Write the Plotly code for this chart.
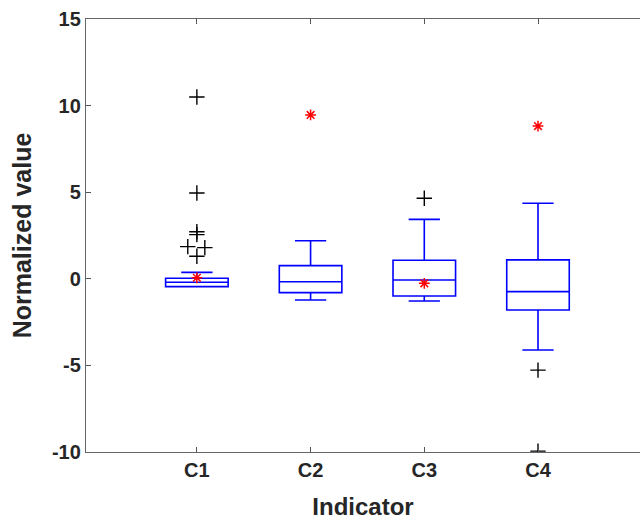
import plotly.graph_objects as go

categories = ["C1", "C2", "C3", "C4"]
positions = [1, 2, 3, 4]
q1 = [-0.45, -0.80, -0.99, -1.80]
median = [-0.20, -0.17, -0.07, -0.74]
q3 = [0.03, 0.76, 1.07, 1.09]
lower_whisker = [-0.43, -1.22, -1.28, -4.11]
upper_whisker = [0.37, 2.20, 3.43, 4.36]

# outliers (category index, value, small horizontal jitter)
outlier_cat = [1, 1, 1, 1, 1, 1, 1, 3, 4, 4]
outlier_val = [10.5, 4.95, 2.72, 2.55, 1.86, 1.80, 1.30, 4.65, -5.27, -9.95]
outlier_jit = [0, 0, 0, 0, -0.08, 0.07, 0, 0, 0, 0]

# red star reference values
star_val = [0.06, 9.46, -0.26, 8.82]

y_ticks = [-10, -5, 0, 5, 10, 15]
y_ticklabels = ["-10", "-5", "0", "5", "10", "15"]

fig = go.Figure()
fig.add_trace(go.Box(
    x=positions, q1=q1, median=median, q3=q3,
    lowerfence=lower_whisker, upperfence=upper_whisker,
    width=0.55, whiskerwidth=0.5, boxpoints=False,
    line=dict(color="#0000ff", width=1.6),
    fillcolor="rgba(0,0,0,0)", showlegend=False,
))
fig.add_trace(go.Scatter(
    x=[c + j for c, j in zip(outlier_cat, outlier_jit)], y=outlier_val,
    mode="markers",
    marker=dict(symbol="cross-thin", size=11, line=dict(color="black", width=1.4)),
    showlegend=False,
))
fig.add_trace(go.Scatter(
    x=positions, y=star_val, mode="markers",
    marker=dict(symbol="asterisk", size=9, line=dict(color="red", width=1.5)),
    showlegend=False,
))

font = "Liberation Sans, Arial, sans-serif"
fig.update_layout(
    width=640, height=520,
    margin=dict(l=86, r=0, t=19, b=68),
    paper_bgcolor="white", plot_bgcolor="white",
    font=dict(family=font, color="#262626"),
    xaxis=dict(
        range=[0.025, 4.897], tickvals=positions, ticktext=categories,
        ticks="inside", ticklen=5, tickcolor="#555",
        showline=True, linecolor="#666", linewidth=1.3, mirror="ticks",
        showgrid=False, zeroline=False,
        tickfont=dict(size=20, family=font, weight="bold"),
        title=dict(text="<b>Indicator</b>", font=dict(size=24), standoff=20),
    ),
    yaxis=dict(
        range=[-10, 15], tickvals=y_ticks, ticktext=y_ticklabels,
        ticks="inside", ticklen=5, tickcolor="#555",
        showline=True, linecolor="#666", linewidth=1.3, mirror=False,
        showgrid=False, zeroline=False,
        tickfont=dict(size=20, family=font, weight="bold"),
        title=dict(text="<b>Normalized value</b>", font=dict(size=25), standoff=13),
    ),
)

fig.write_html("out.html")
